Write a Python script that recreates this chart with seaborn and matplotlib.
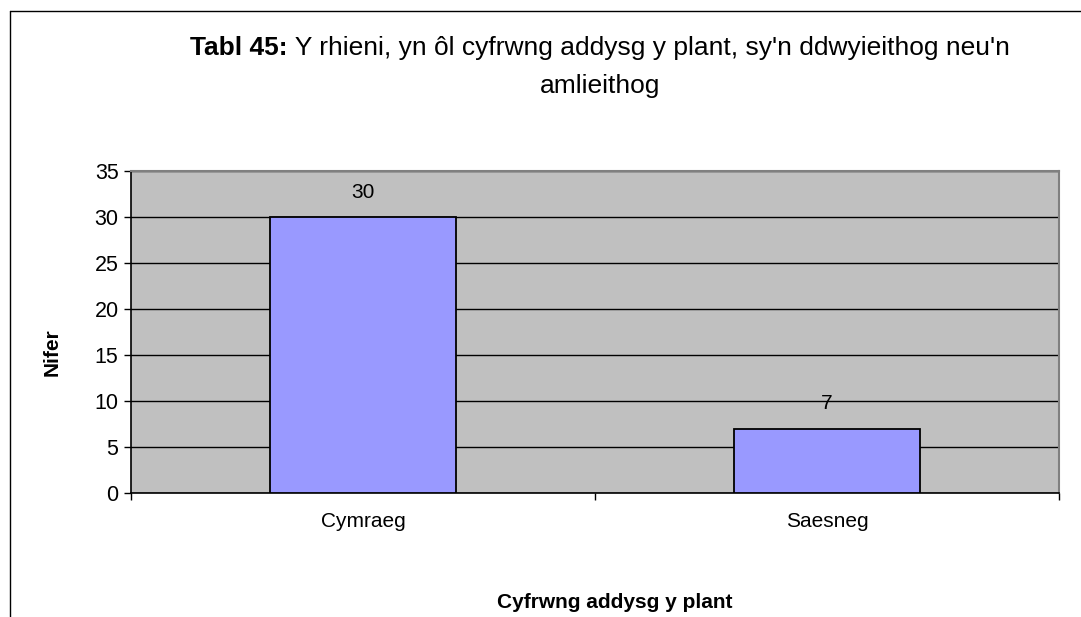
import matplotlib
matplotlib.use("Agg")
import matplotlib.pyplot as plt
import seaborn as sns
import pandas as pd
from matplotlib.lines import Line2D

categories = ["Cymraeg", "Saesneg"]
values = [30, 7]
yticks = [0, 5, 10, 15, 20, 25, 30, 35]

title_bold = "Tabl 45:"
title_rest = " Y rhieni, yn ôl cyfrwng addysg y plant, sy'n ddwyieithog neu'n"
title_line2 = "amlieithog"
xlabel = "Cyfrwng addysg y plant"
ylabel = "Nifer"

sns.set_theme(style="white")
plt.rcParams['font.family'] = ['Liberation Sans', 'DejaVu Sans']
plt.rcParams['text.color'] = 'black'
plt.rcParams['xtick.color'] = 'black'
plt.rcParams['ytick.color'] = 'black'
plt.rcParams['axes.labelcolor'] = 'black'

df = pd.DataFrame({"cat": categories, "val": values})

fig = plt.figure(figsize=(10.81, 6.17), dpi=100)
ax = fig.add_axes([131/1081, 1-493/617, (1059-131)/1081, (493-171)/617])
ax.set_facecolor("#C0C0C0")

sns.barplot(data=df, x="cat", y="val", ax=ax, color="#9999FF", width=0.4,
            edgecolor="black", linewidth=1.3, saturation=1, zorder=3)
ax.set_xlim(-0.5, 1.5)
ax.set_ylim(0, 35)
ax.set_yticks(yticks)
ax.set_yticklabels([str(t) for t in yticks], fontsize=15.5)
ax.yaxis.grid(True, color="black", linewidth=1)
ax.set_axisbelow(True)
ax.tick_params(axis="y", direction="out", length=5, width=1, color="black", pad=4, left=True)
ax.tick_params(axis="x", which="major", length=0, labelsize=15, pad=14)
ax.set_xticks([-0.5, 0.5, 1.5], minor=True)
ax.tick_params(axis="x", which="minor", direction="out", length=5, width=1, color="black", bottom=True)
ax.set_xlabel("")
ax.set_ylabel("")

for c, v in zip(categories, values):
    idx = categories.index(c)
    ax.annotate(str(v), (idx, v), xytext=(0, 11), textcoords="offset points",
                ha="center", va="bottom", fontsize=15)

for s in ["left", "bottom"]:
    ax.spines[s].set_color("black")
    ax.spines[s].set_linewidth(1.2)
for s in ["top", "right"]:
    ax.spines[s].set_color("#808080")
    ax.spines[s].set_linewidth(1.5)

# titles
fig.canvas.draw()
r = fig.canvas.get_renderer()
tb = fig.text(0, 1-48/617, title_bold, fontsize=19, fontweight="bold", va="center", ha="left")
tr = fig.text(0, 1-48/617, title_rest, fontsize=19, va="center", ha="left")
wb = tb.get_window_extent(r).width
wr = tr.get_window_extent(r).width
total = wb + wr
cx = 600
x0 = cx - total/2
tb.set_x(x0/1081)
tr.set_x((x0+wb)/1081)
fig.text(cx/1081, 1-86/617, title_line2, fontsize=19, va="center", ha="center")

fig.text(615/1081, 1-602/617, xlabel, fontsize=15, fontweight="bold", ha="center", va="center")
fig.text(52/1081, 1-352/617, ylabel, fontsize=15, fontweight="bold", ha="center", va="center", rotation=90)

# chart border (left and top)
fig.add_artist(Line2D([10/1081, 10/1081], [0, 1-11/617], transform=fig.transFigure, color="black", linewidth=1))
fig.add_artist(Line2D([10/1081, 1], [1-11/617, 1-11/617], transform=fig.transFigure, color="black", linewidth=1))

fig.savefig("out.png", dpi=100)
